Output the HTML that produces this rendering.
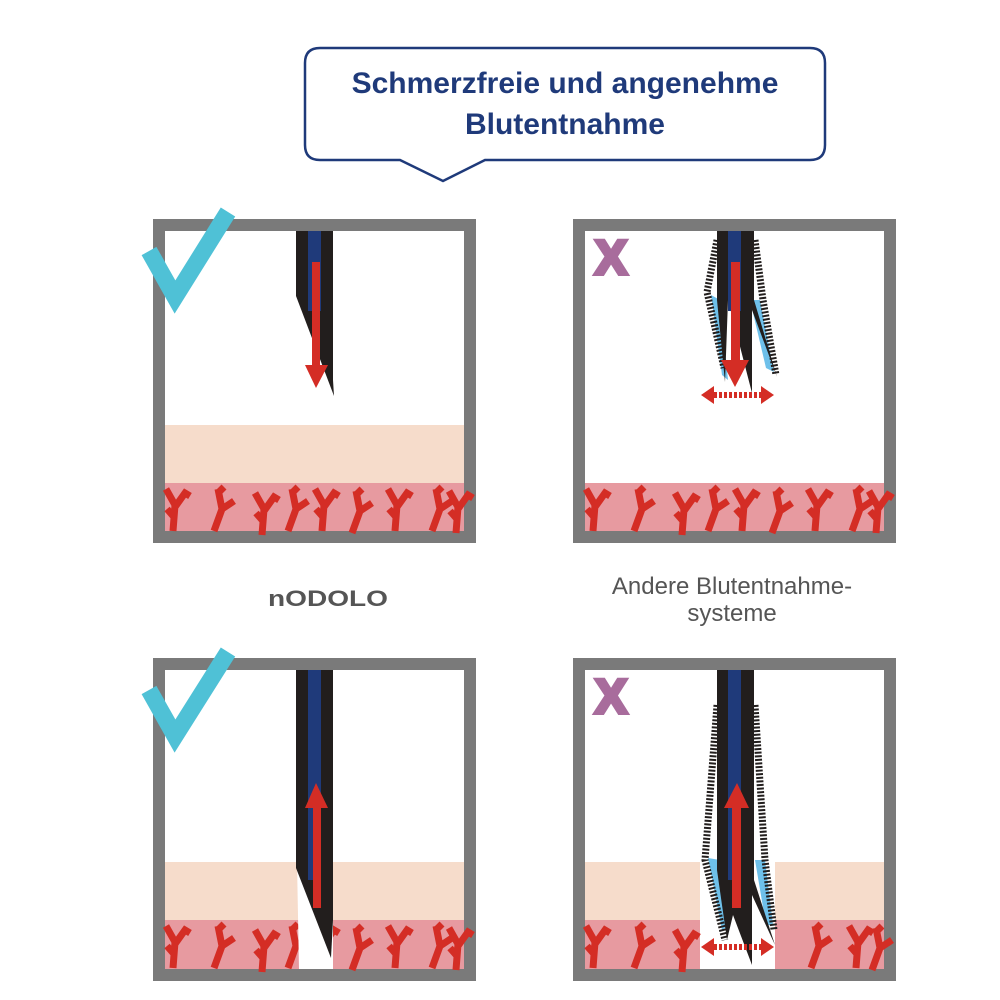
<!DOCTYPE html>
<html><head><meta charset="utf-8"><style>html,body{margin:0;padding:0;background:#fff}svg{display:block}</style></head>
<body>
<svg width="1000" height="1000" viewBox="0 0 1000 1000" xmlns="http://www.w3.org/2000/svg">
<defs>
<g id="tr" fill="none" stroke="#d42d25" stroke-width="7" stroke-linecap="butt">
<path d="M0 48 L2 22 L-7 6 M2 24 L12 10 L17 13 M1 34 L-6 26"/>
</g>
<g id="tr2" fill="none" stroke="#d42d25" stroke-width="7">
<path d="M-4 48 L4 26 L16 18 M4 26 L0 6 M0 10 L6 4"/>
</g>
<g id="caps">
<use href="#tr" x="173" y="0"/><use href="#tr2" x="218" y="0"/><use href="#tr" x="262" y="4"/>
<use href="#tr2" x="292" y="0"/><use href="#tr" x="322" y="0"/><use href="#tr2" x="356" y="2"/>
<use href="#tr" x="395" y="0"/><use href="#tr2" x="436" y="0"/><use href="#tr" x="456" y="2"/>
</g>
</defs>

<path d="M320 48 H810 Q825 48 825 63 V145 Q825 160 810 160 H485 L443 181 L400 160 H320 Q305 160 305 145 V63 Q305 48 320 48 Z" fill="#fff" stroke="#1f3a7a" stroke-width="2.5"/>
<text x="565" y="93" text-anchor="middle" font-family="Liberation Sans, sans-serif" font-weight="bold" font-size="30" fill="#1f3a7a">Schmerzfreie und angenehme</text>
<text x="565" y="134" text-anchor="middle" font-family="Liberation Sans, sans-serif" font-weight="bold" font-size="30" fill="#1f3a7a">Blutentnahme</text>

<!-- TL -->
<rect x="159" y="225" width="311" height="312" fill="#fff" stroke="#7a7a7a" stroke-width="12"/>
<rect x="165" y="425" width="299" height="58" fill="#f6dccb"/>
<rect x="165" y="483" width="299" height="48" fill="#e79aa0"/>
<g transform="translate(0,483)"><use href="#caps"/></g>
<polygon points="296,231 333,231 333,380 334,396 296,296" fill="#221e1d"/>
<rect x="308" y="231" width="13" height="80" fill="#1f3a7a"/>
<rect x="312" y="262" width="8" height="104" fill="#d42d25"/>
<polygon points="305,365 328,365 316,388" fill="#d42d25"/>
<polyline points="149,251 175,297 228,212" fill="none" stroke="#4fc1d6" stroke-width="17"/>

<!-- TR -->
<rect x="579" y="225" width="311" height="312" fill="#fff" stroke="#7a7a7a" stroke-width="12"/>
<rect x="585" y="483" width="299" height="48" fill="#e79aa0"/>
<g transform="translate(420,483)"><use href="#caps"/></g>
<text x="611" y="274" text-anchor="middle" font-family="Liberation Sans, sans-serif" font-weight="bold" font-size="48" fill="#a86c9c" stroke="#a86c9c" stroke-width="4">X</text>
<polygon points="711,295 720,300 728,380 722,375" fill="#6ec0ea"/>
<polygon points="750,300 760,300 774,372 766,368" fill="#6ec0ea"/>
<path d="M717 240 L707 292 L724 368" fill="none" stroke="#221e1d" stroke-width="7" stroke-dasharray="2 1.6"/>
<path d="M755 240 L763 300 L776 375" fill="none" stroke="#221e1d" stroke-width="7" stroke-dasharray="2 1.6"/>
<polygon points="717,231 754,231 754,300 777,377 752,310 752,393 728,300 725,382 717,300" fill="#221e1d"/>
<rect x="728" y="231" width="13" height="80" fill="#1f3a7a"/>
<rect x="731" y="262" width="9" height="100" fill="#d42d25"/>
<polygon points="721,360 749,360 735,387" fill="#d42d25"/>
<polygon points="701,395 714,386 714,404" fill="#d42d25"/>
<polygon points="774,395 761,386 761,404" fill="#d42d25"/>
<line x1="714" y1="395" x2="761" y2="395" stroke="#d42d25" stroke-width="6" stroke-dasharray="3 2"/>

<text x="328" y="606" text-anchor="middle" font-family="Liberation Sans, sans-serif" font-weight="bold" font-size="22" fill="#555" textLength="120" lengthAdjust="spacingAndGlyphs">nODOLO</text>
<text x="732" y="594" text-anchor="middle" font-family="Liberation Sans, sans-serif" font-size="24" fill="#555">Andere Blutentnahme-</text>
<text x="732" y="621" text-anchor="middle" font-family="Liberation Sans, sans-serif" font-size="24" fill="#555">systeme</text>

<!-- BL -->
<rect x="159" y="664" width="311" height="311" fill="#fff" stroke="#7a7a7a" stroke-width="12"/>
<rect x="165" y="862" width="299" height="58" fill="#f6dccb"/>
<rect x="165" y="920" width="299" height="49" fill="#e79aa0"/>
<g transform="translate(0,920)"><use href="#caps"/></g>
<polygon points="297,862 333,862 333,969 299,969" fill="#fff"/>
<polygon points="296,670 333,670 333,920 331,958 296,868" fill="#221e1d"/>
<rect x="308" y="670" width="13" height="210" fill="#1f3a7a"/>
<rect x="313" y="806" width="8" height="102" fill="#d42d25"/>
<polygon points="305,808 328,808 316,783" fill="#d42d25"/>
<polyline points="149,690 175,736 228,652" fill="none" stroke="#4fc1d6" stroke-width="17"/>

<!-- BR -->
<rect x="579" y="664" width="311" height="311" fill="#fff" stroke="#7a7a7a" stroke-width="12"/>
<rect x="585" y="862" width="115" height="58" fill="#f6dccb"/>
<rect x="775" y="862" width="109" height="58" fill="#f6dccb"/>
<rect x="585" y="920" width="115" height="49" fill="#e79aa0"/>
<rect x="775" y="920" width="109" height="49" fill="#e79aa0"/>
<g transform="translate(420,920)"><use href="#tr" x="173" y="0"/><use href="#tr2" x="218" y="0"/><use href="#tr" x="262" y="4"/><use href="#tr2" x="395" y="0"/><use href="#tr" x="436" y="0"/><use href="#tr2" x="456" y="2"/></g>
<text x="611" y="713" text-anchor="middle" font-family="Liberation Sans, sans-serif" font-weight="bold" font-size="48" fill="#a86c9c" stroke="#a86c9c" stroke-width="4">X</text>
<polygon points="708,858 720,860 730,925 722,930" fill="#6ec0ea"/>
<polygon points="755,860 765,860 773,925 766,925" fill="#6ec0ea"/>
<path d="M717 705 L705 860 L725 940" fill="none" stroke="#221e1d" stroke-width="7" stroke-dasharray="2 1.6"/>
<path d="M755 705 L765 860 L774 930" fill="none" stroke="#221e1d" stroke-width="7" stroke-dasharray="2 1.6"/>
<polygon points="717,670 754,670 754,880 775,945 752,895 752,965 733,915 727,940 717,870" fill="#221e1d"/>
<rect x="728" y="670" width="13" height="210" fill="#1f3a7a"/>
<rect x="732" y="806" width="9" height="102" fill="#d42d25"/>
<polygon points="724,808 749,808 737,783" fill="#d42d25"/>
<polygon points="701,947 714,938 714,956" fill="#d42d25"/>
<polygon points="774,947 761,938 761,956" fill="#d42d25"/>
<line x1="714" y1="947" x2="761" y2="947" stroke="#d42d25" stroke-width="6" stroke-dasharray="3 2"/>
</svg>
</body></html>
